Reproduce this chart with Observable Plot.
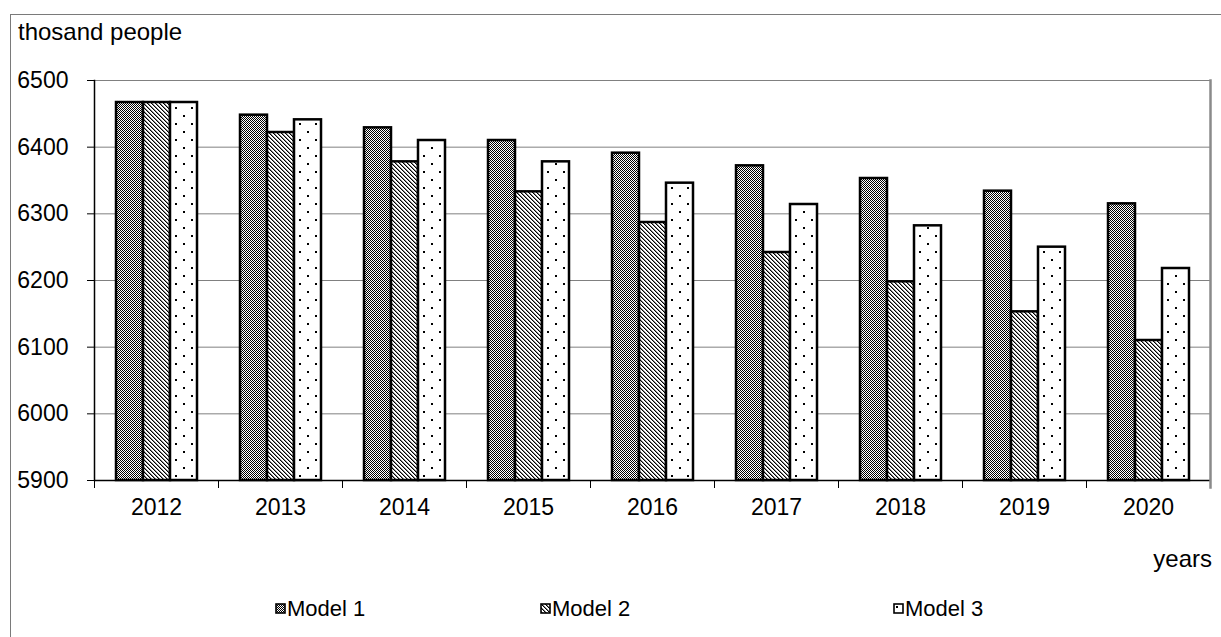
<!DOCTYPE html>
<html>
<head>
<meta charset="utf-8">
<script src="https://cdn.jsdelivr.net/npm/d3@7"></script>
<script src="https://cdn.jsdelivr.net/npm/@observablehq/plot@0.6"></script>
<style>
  html, body { margin: 0; padding: 0; background: #fff; }
  #wrap { position: relative; width: 1221px; height: 637px; overflow: hidden; background: #fff;
          font-family: "Liberation Sans", Arial, sans-serif; color: #000; }
  #wrap svg.plot { position: absolute; left: 0; top: 0; }
  .outer { position: absolute; left: 10px; top: 14px; width: 1400px; height: 800px;
           border-left: 1px solid #7a7a7a; border-top: 1px solid #7a7a7a; pointer-events: none; }
  .lbl { position: absolute; font-size: 24px; line-height: 24px; white-space: nowrap; }
  .leg { position: absolute; top: 598px; font-size: 22px; line-height: 22px; white-space: nowrap; }
  .sw { position: absolute; }
</style>
</head>
<body>
<div id="wrap"></div>
<script>
// ---- data ----
const years = ["2012", "2013", "2014", "2015", "2016", "2017", "2018", "2019", "2020"];
const models = ["Model 1", "Model 2", "Model 3"];
const model1 = [6467, 6448, 6429, 6410, 6391, 6372, 6353, 6334, 6315];
const model2 = [6467, 6422, 6378, 6333, 6287, 6242, 6198, 6153, 6110];
const model3 = [6467, 6441, 6410, 6378, 6346, 6314, 6282, 6250, 6218];
const yTicks = [5900, 6000, 6100, 6200, 6300, 6400, 6500];
const yLabel = "thosand people";
const xLabel = "years";

const series = [model1, model2, model3];
const patternIds = ["pat-m1", "pat-m2", "pat-m3"];
const rows = years.flatMap((year, i) => models.map((model, j) => ({year, model, value: series[j][i]})));

// ---- layout ----
const W = 1221, H = 540;
const mTop = 80, mBottom = 60, mLeft = 90, mRight = 7;
const frameH = H - mTop - mBottom;

function defs() {
  const d = d3.create("svg:defs");
  const px = (p, x, y, c) => p.append("rect").attr("x", x).attr("y", y).attr("width", 1).attr("height", 1).attr("fill", c);
  // Model 1: fine checker
  const p1 = d.append("pattern").attr("id", "pat-m1").attr("patternUnits", "userSpaceOnUse")
    .attr("width", 2).attr("height", 2);
  p1.append("rect").attr("width", 2).attr("height", 2).attr("fill", "#fff");
  px(p1, 0, 0, "#000"); px(p1, 1, 1, "#000");
  // Model 2: diagonal hatch (top-left to bottom-right)
  const p2 = d.append("pattern").attr("id", "pat-m2").attr("patternUnits", "userSpaceOnUse")
    .attr("width", 4).attr("height", 4);
  p2.append("rect").attr("width", 4).attr("height", 4).attr("fill", "#fff");
  for (let i = 0; i < 4; i++) { px(p2, i, i, "#000"); px(p2, (i + 1) % 4, i, "#888"); }
  // Model 3: sparse dots
  const p3 = d.append("pattern").attr("id", "pat-m3").attr("patternUnits", "userSpaceOnUse")
    .attr("width", 16).attr("height", 16);
  p3.append("rect").attr("width", 16).attr("height", 16).attr("fill", "#fff");
  p3.append("rect").attr("x", 3).attr("y", 3).attr("width", 2).attr("height", 2).attr("fill", "#000");
  p3.append("rect").attr("x", 11).attr("y", 11).attr("width", 2).attr("height", 2).attr("fill", "#000");
  return d.node();
}

const plot = Plot.plot({
  width: W,
  height: H,
  marginTop: mTop, marginBottom: mBottom, marginLeft: mLeft, marginRight: mRight,
  style: {fontFamily: '"Liberation Sans", Arial, sans-serif', fontSize: "23px", color: "#000", background: "transparent"},
  fx: {domain: years, padding: 0},
  x: {domain: models, paddingInner: 0, paddingOuter: 0.73, axis: null},
  y: {domain: [5900, 6500]},
  color: {domain: models, range: patternIds.map(id => `url(#${id})`)},
  marks: [
    defs,
    Plot.ruleY(yTicks.slice(1), {stroke: "#808080", strokeWidth: 1}),
    Plot.barY(rows, {fx: "year", x: "model", y1: 5900, y2: "value", fill: "model",
      stroke: "#000", strokeWidth: 2.5, inset: 0}),
    Plot.ruleY([5900], {stroke: "#000", strokeWidth: 1.5}),
    Plot.frame({anchor: "left", facetAnchor: "left", stroke: "#000", strokeWidth: 1.5}),
    Plot.frame({anchor: "left", insetTop: frameH, insetBottom: -7, stroke: "#000", strokeWidth: 1}),
    Plot.frame({anchor: "right", facetAnchor: "right", insetBottom: -7, stroke: "#8a8a8a", strokeWidth: 2.5}),
    Plot.axisY({ticks: yTicks, tickSize: 7, tickPadding: 19, tickFormat: d => String(d), label: null, fontSize: 23}),
    Plot.axisFx({anchor: "bottom", tickSize: 0, tickPadding: 18, label: null, fontSize: 23})
  ]
});

const wrap = document.getElementById("wrap");
plot.classList.add("plot");
wrap.appendChild(plot);

const outer = document.createElement("div");
outer.className = "outer";
wrap.appendChild(outer);

function addLabel(text, css) {
  const el = document.createElement("div");
  el.className = "lbl";
  el.textContent = text;
  Object.assign(el.style, css);
  wrap.appendChild(el);
}
addLabel(yLabel, {left: "18px", top: "20px"});
addLabel(xLabel, {right: "9px", top: "547px"});

// legend
const legendX = [275, 540, 893];
models.forEach((m, i) => {
  const ns = "http://www.w3.org/2000/svg";
  const s = document.createElementNS(ns, "svg");
  s.setAttribute("width", 12); s.setAttribute("height", 12);
  s.setAttribute("class", "sw");
  s.style.left = legendX[i] + "px";
  s.style.top = "603px";
  const r = document.createElementNS(ns, "rect");
  r.setAttribute("x", 1); r.setAttribute("y", 1); r.setAttribute("width", 9); r.setAttribute("height", 9);
  r.setAttribute("fill", `url(#${patternIds[i]})`);
  r.setAttribute("stroke", "#000"); r.setAttribute("stroke-width", 1.6);
  s.appendChild(r);
  wrap.appendChild(s);
  const t = document.createElement("div");
  t.className = "leg";
  t.style.left = (legendX[i] + 12) + "px";
  t.textContent = m;
  wrap.appendChild(t);
});
</script>
</body>
</html>
